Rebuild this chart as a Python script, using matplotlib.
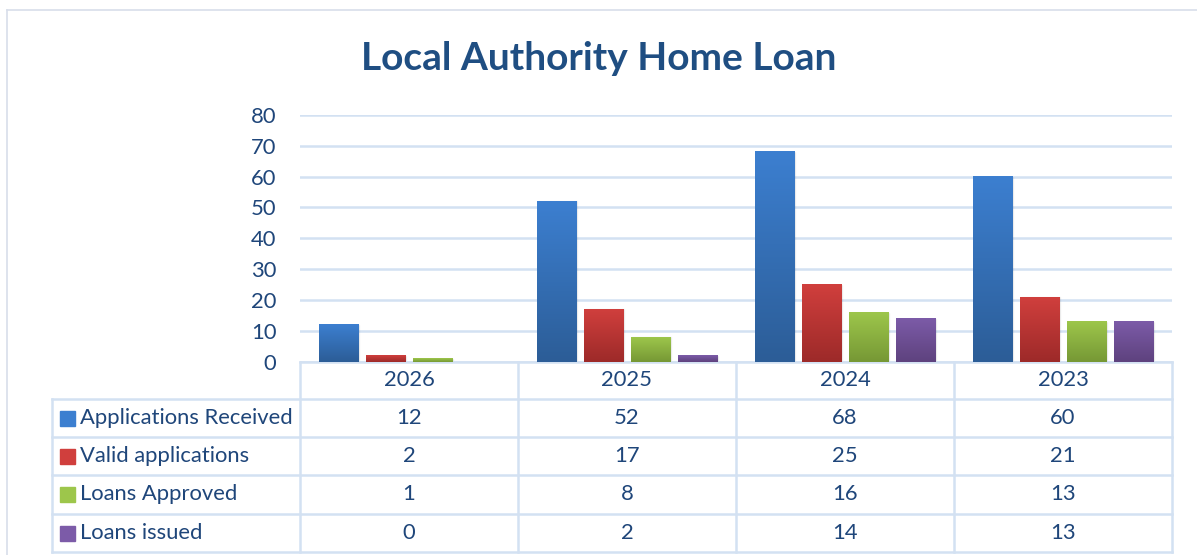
import matplotlib.pyplot as plt
import numpy as np
from matplotlib.colors import LinearSegmentedColormap
from matplotlib.lines import Line2D
from matplotlib.patches import Rectangle

plt.rcParams['font.family'] = ['Lato', 'DejaVu Sans']

years = ['2026', '2025', '2024', '2023']
series = ['Applications Received', 'Valid applications', 'Loans Approved', 'Loans issued']
received = [12, 52, 68, 60]
valid = [2, 17, 25, 21]
approved = [1, 8, 16, 13]
issued = [0, 2, 14, 13]
values = [received, valid, approved, issued]

# (top, bottom) gradient colours per series
shades = [('#3c7fd0', '#2c5d97'), ('#d03f3d', '#9d2a29'),
          ('#9dc64b', '#769835'), ('#7c5ba8', '#5e427e')]
txt = '#1f467a'
line_c = '#d3e1f2'
fs = 15.8

W, H = 1197, 555
fig = plt.figure(figsize=(W / 100, H / 100), dpi=100)


def fx(px):
    return px / W


def fy(py):
    return 1 - py / H


ax = fig.add_axes([fx(300), fy(362), fx(1172) - fx(300), fy(114.7) - fy(362)])
x = np.arange(len(years))
bw = 0.179
step = bw + 0.037
for i, vals in enumerate(values):
    off = (i - 1.5) * step
    bars = ax.bar(x + off, vals, bw, color='none', zorder=3)
    cmap = LinearSegmentedColormap.from_list('g%d' % i, [shades[i][1], shades[i][0]])
    grad = np.linspace(0, 1, 100).reshape(-1, 1)
    for b in bars:
        if b.get_height() <= 0:
            continue
        bx, bwid, bh = b.get_x(), b.get_width(), b.get_height()
        # soft shadow
        ax.add_patch(Rectangle((bx + 0.006, 0), bwid, bh, color='#000000', alpha=0.05, zorder=2))
        ax.imshow(grad, extent=[bx, bx + bwid, 0, bh], origin='lower', cmap=cmap,
                  aspect='auto', zorder=3)

ax.set_xlim(-0.5, 3.5)
ax.set_ylim(0, 80)
ax.set_yticks(range(0, 81, 10))
ax.yaxis.grid(True, color=line_c, lw=1.8, zorder=0)
ax.set_axisbelow(True)
for s in ['top', 'right', 'left']:
    ax.spines[s].set_visible(False)
ax.spines['bottom'].set_color(line_c)
ax.spines['bottom'].set_linewidth(1.8)
ax.tick_params(axis='y', length=0, pad=17, labelsize=fs, labelcolor=txt)
ax.set_xticks([])

fig.text(0.5, fy(58), 'Local Authority Home Loan', ha='center', va='center',
         fontsize=28, fontweight='bold', color='#1f4e82')

# data table
rows_y = [362, 399, 437, 475, 514, 552]
col_x = [52, 300, 518, 736, 954, 1172]
lw = 1.8
for i, yy in enumerate(rows_y[1:]):
    fig.add_artist(Line2D([fx(52), fx(1172)], [fy(yy), fy(yy)], color=line_c, lw=lw))
for j, xx in enumerate(col_x):
    top = rows_y[1] if j == 0 else rows_y[0]
    fig.add_artist(Line2D([fx(xx), fx(xx)], [fy(top), fy(552)], color=line_c, lw=lw))

for j, yr in enumerate(years):
    cx = (col_x[j + 1] + col_x[j + 2]) / 2
    fig.text(fx(cx), fy((rows_y[0] + rows_y[1]) / 2), yr, ha='center', va='center',
             fontsize=fs, color=txt)

for i, name in enumerate(series):
    cy = (rows_y[i + 1] + rows_y[i + 2]) / 2
    fig.add_artist(Rectangle((fx(60), fy(cy + 7.5)), fx(15), fy(0) - fy(15),
                             color=shades[i][0], transform=fig.transFigure))
    fig.text(fx(80), fy(cy), name, ha='left', va='center', fontsize=fs, color=txt)
    for j, v in enumerate(values[i]):
        cx = (col_x[j + 1] + col_x[j + 2]) / 2
        fig.text(fx(cx), fy(cy), str(v), ha='center', va='center', fontsize=fs, color=txt)

# chart border
fig.add_artist(Line2D([fx(7), 1], [fy(9.5), fy(9.5)], color='#d8deea', lw=1.2))
fig.add_artist(Line2D([fx(7), fx(7)], [fy(9.5), 0], color='#d8deea', lw=1.2))

fig.savefig('out.png', dpi=100)
